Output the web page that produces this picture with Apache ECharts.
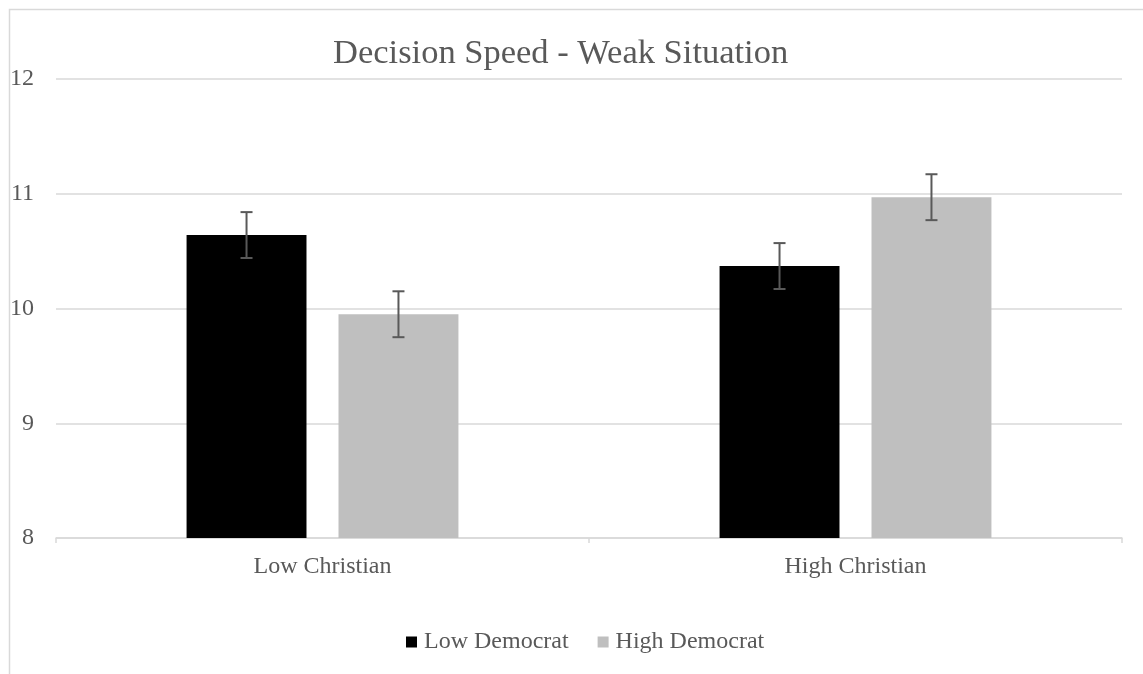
<!DOCTYPE html>
<html>
<head>
<meta charset="utf-8">
<script src="https://cdn.jsdelivr.net/npm/echarts@6/dist/echarts.min.js"></script>
<style>html,body{margin:0;padding:0;background:#fff}#c{width:1143px;height:674px}</style>
</head>
<body>
<div id="c"></div>
<script>
const categories = ['Low Christian', 'High Christian'];
const seriesNames = ['Low Democrat', 'High Democrat'];
const lowDemocrat = [10.64, 10.37];
const highDemocrat = [9.95, 10.97];
const lowDemocratErr = [0.2, 0.2];
const highDemocratErr = [0.2, 0.2];
const yTicks = [8, 9, 10, 11, 12];

const FONT = '"Liberation Serif", "Times New Roman", serif';
const TXT = '#595959';
const BAR_W = 0.225, BAR_GAP = 0.267;

function errData(vals, errs) {
  return vals.map((v, i) => [i, v - errs[i], v + errs[i]]);
}
function errSeries(name, vals, errs, sign) {
  return {
    type: 'custom',
    name: name + ' error',
    z: 10,
    data: errData(vals, errs),
    encode: { x: 0, y: [1, 2] },
    renderItem: function (params, api) {
      const band = api.size([1, 0])[0];
      const off = sign * band * BAR_W * (1 + BAR_GAP) / 2;
      const lo = api.coord([api.value(0), api.value(1)]);
      const hi = api.coord([api.value(0), api.value(2)]);
      const x = lo[0] + off;
      const cap = 6;
      const style = { stroke: '#595959', lineWidth: 2 };
      return {
        type: 'group',
        children: [
          { type: 'line', shape: { x1: x, y1: lo[1], x2: x, y2: hi[1] }, style },
          { type: 'line', shape: { x1: x - cap, y1: lo[1], x2: x + cap, y2: lo[1] }, style },
          { type: 'line', shape: { x1: x - cap, y1: hi[1], x2: x + cap, y2: hi[1] }, style }
        ]
      };
    }
  };
}

const chart = echarts.init(document.getElementById('c'), null, { renderer: 'canvas' });
chart.setOption({
  backgroundColor: '#fff',
  animation: false,
  textStyle: { fontFamily: FONT },
  graphic: [{
    type: 'rect', left: 7, top: 7, silent: true, z: -10,
    shape: { width: 1300, height: 800 },
    style: { fill: 'none', stroke: '#d9d9d9', lineWidth: 1.5 }
  }],
  title: {
    text: 'Decision Speed - Weak Situation',
    left: 328, top: 31,
    textStyle: { fontFamily: FONT, fontSize: 34.5, fontWeight: 'normal', color: TXT }
  },
  legend: {
    data: seriesNames,
    top: 625,
    left: 401,
    icon: 'rect',
    itemWidth: 11, itemHeight: 11, itemGap: 29,
    textStyle: { fontFamily: FONT, fontSize: 24, color: TXT, padding: [0, 0, 0, 2] }
  },
  grid: { left: 56, right: 21, top: 79, bottom: 136, containLabel: false },
  xAxis: {
    type: 'category',
    data: categories,
    axisLine: { lineStyle: { color: '#d9d9d9', width: 1.5 } },
    axisTick: { show: true, length: 5, lineStyle: { color: '#d9d9d9', width: 1.5 } },
    axisLabel: { fontFamily: FONT, fontSize: 24, color: TXT, margin: 17 }
  },
  yAxis: {
    type: 'value',
    min: yTicks[0], max: yTicks[yTicks.length - 1], interval: 1,
    axisLine: { show: false },
    axisTick: { show: false },
    splitLine: { lineStyle: { color: '#d9d9d9', width: 1.5 } },
    axisLabel: { fontFamily: FONT, fontSize: 24, color: TXT, margin: 22 }
  },
  series: [
    {
      type: 'bar', name: seriesNames[0], data: lowDemocrat,
      barWidth: (BAR_W * 100) + '%', barGap: (BAR_GAP * 100) + '%',
      itemStyle: { color: '#000000' }
    },
    {
      type: 'bar', name: seriesNames[1], data: highDemocrat,
      barWidth: (BAR_W * 100) + '%', barGap: (BAR_GAP * 100) + '%',
      itemStyle: { color: '#bfbfbf' }
    },
    errSeries(seriesNames[0], lowDemocrat, lowDemocratErr, -1),
    errSeries(seriesNames[1], highDemocrat, highDemocratErr, 1)
  ]
});
</script>
</body>
</html>
